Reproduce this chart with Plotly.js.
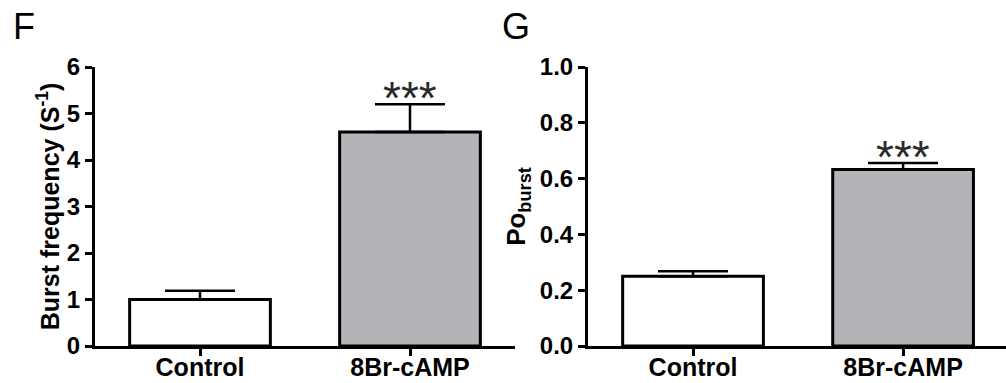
<!DOCTYPE html>
<html>
<head>
<meta charset="utf-8">
<script src="https://cdn.plot.ly/plotly-3.0.1.min.js"></script>
<style>html,body{margin:0;padding:0;background:#fff;}#chart{width:1006px;height:383px;}</style>
</head>
<body>
<div id="chart"></div>
<script>
const categories = ["Control", "8Br-cAMP"];
const burstFreq = [1.0, 4.6];
const burstFreqErr = [0.19, 0.6];
const poBurst = [0.25, 0.633];
const poBurstErr = [0.018, 0.023];
const sigLabels = ["", "***"];
const barColors = ["#ffffff", "#b4b4b8"];

const FONT = "Liberation Sans, Arial, Helvetica, sans-serif";

function barTrace(vals, errs, xa, ya) {
  return {
    type: "bar", x: categories, y: vals, xaxis: xa, yaxis: ya,
    width: 0.67,
    marker: {color: barColors, line: {color: "#000", width: 3}},
    error_y: {type: "data", array: errs, arrayminus: errs.map(() => 0), symmetric: false,
              visible: true, color: "#000", thickness: 2.5, width: 35},
    showlegend: false, hoverinfo: "skip"
  };
}

const data = [
  barTrace(burstFreq, burstFreqErr, "x", "y"),
  barTrace(poBurst, poBurstErr, "x2", "y2")
];

const starFont = {family: FONT, size: 46, color: "#2a2a2a"};
const annotations = [];
categories.forEach((c, i) => {
  if (sigLabels[i]) {
    annotations.push({xref: "x", yref: "y", x: c, y: burstFreq[i] + burstFreqErr[i], text: sigLabels[i],
      showarrow: false, yanchor: "bottom", yshift: -22, font: starFont});
    annotations.push({xref: "x2", yref: "y2", x: c, y: poBurst[i] + poBurstErr[i], text: sigLabels[i],
      showarrow: false, yanchor: "bottom", yshift: -22, font: starFont});
  }
});
annotations.push({xref: "paper", yref: "paper", x: 0.011, y: 1.0, xanchor: "left", yanchor: "top", yshift: -4,
  text: "F", showarrow: false, font: {family: FONT, size: 36, color: "#000"}});
annotations.push({xref: "paper", yref: "paper", x: 0.497, y: 1.0, xanchor: "left", yanchor: "top", yshift: -4,
  text: "G", showarrow: false, font: {family: FONT, size: 36, color: "#000"}});

const tickFont = {family: FONT, size: 24, color: "#000", weight: "bold"};
const yDomain = [1 - 346 / 383, 1 - 67 / 383];

const xCommon = {
  type: "category", showline: true, linewidth: 3, linecolor: "#000",
  ticks: "outside", ticklen: 7, tickwidth: 3, tickcolor: "#000",
  tickfont: {family: FONT, size: 25, color: "#000", weight: "bold"},
  ticklabelstandoff: -10,
  showgrid: false, zeroline: false, fixedrange: true
};
const yCommon = {
  showline: true, linewidth: 3, linecolor: "#000",
  ticks: "outside", ticklen: 7, tickwidth: 3, tickcolor: "#000",
  tickfont: tickFont, showgrid: false, zeroline: false, fixedrange: true, domain: yDomain
};

const layout = {
  width: 1006, height: 383,
  margin: {l: 0, r: 0, t: 0, b: 0},
  paper_bgcolor: "#fff", plot_bgcolor: "#fff",
  xaxis: Object.assign({}, xCommon, {domain: [95 / 1006, 515 / 1006], range: [-0.5, 1.5], anchor: "y"}),
  yaxis: Object.assign({}, yCommon, {range: [0, 6], dtick: 1, anchor: "x",
    title: {text: "Burst frequency (S<sup>-1</sup>)", font: {family: FONT, size: 25, color: "#000", weight: "bold"}, standoff: 1}}),
  xaxis2: Object.assign({}, xCommon, {domain: [588 / 1006, 1], range: [-0.5, 1.49], anchor: "y2"}),
  yaxis2: Object.assign({}, yCommon, {range: [0, 1], dtick: 0.2, tickformat: ".1f", anchor: "x2",
    title: {text: "Po<sub>burst</sub>", font: {family: FONT, size: 26, color: "#000", weight: "bold"}, standoff: 7}}),
  annotations: annotations
};

Plotly.newPlot("chart", data, layout, {displayModeBar: false, staticPlot: true});
</script>
</body>
</html>
